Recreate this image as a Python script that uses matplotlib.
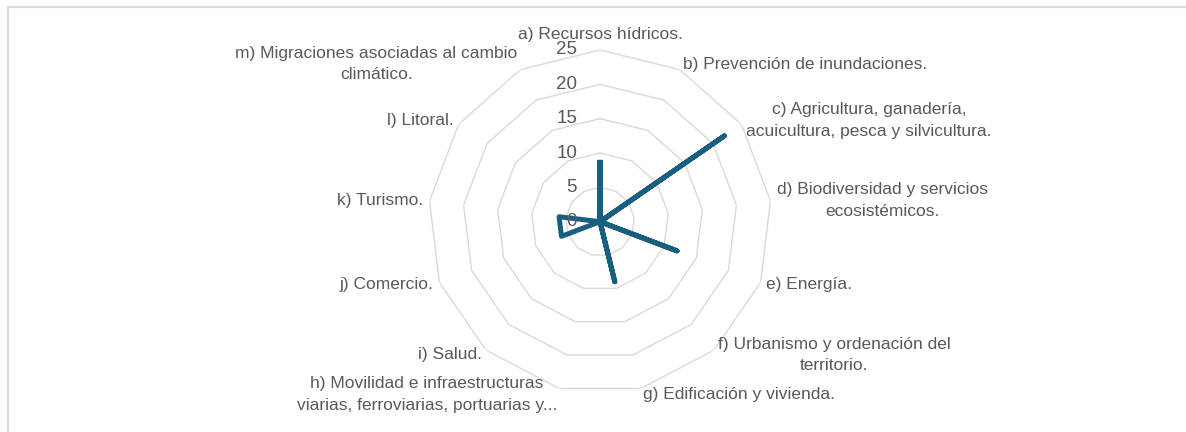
import numpy as np
import matplotlib.pyplot as plt
from matplotlib import transforms

# categories and counts
labels = ['a) Recursos hídricos.',
          'b) Prevención de inundaciones.',
          'c) Agricultura, ganadería,\nacuicultura, pesca y silvicultura.',
          'd) Biodiversidad y servicios\necosistémicos.',
          'e) Energía.',
          'f) Urbanismo y ordenación del\nterritorio.',
          'g) Edificación y vivienda.',
          'h) Movilidad e infraestructuras\nviarias, ferroviarias, portuarias y...',
          'i) Salud.',
          'j) Comercio.',
          'k) Turismo.',
          'l) Litoral.',
          'm) Migraciones asociadas al cambio\nclimático.']
values = [9, 0, 22, 0, 12, 0, 9, 0, 0, 6, 6, 0, 0]
rings = [0, 5, 10, 15, 20, 25]

plt.rcParams['font.family'] = ['Liberation Sans', 'DejaVu Sans']
txt_color = '#595959'
grid_color = '#d9d9d9'
line_color = '#175e80'

W, H = 1186, 432
fig = plt.figure(figsize=(W / 100, H / 100), dpi=100)

# polar axes centred at (600, 222) px, outer ring radius ~172 px
cx, cy, R = 600, 221.7, 171.7
ax = fig.add_axes([(cx - R) / W, (H - cy - R) / H, 2 * R / W, 2 * R / H],
                  projection='polar')
ax.set_theta_zero_location('N')
ax.set_theta_direction(-1)
ax.set_ylim(0, 25)
ax.axis('off')

n = len(labels)
theta = np.arange(n) * 2 * np.pi / n
theta_c = np.append(theta, theta[0])

# polygon gridlines
for r in rings[1:]:
    ax.plot(theta_c, [r] * (n + 1), color=grid_color, lw=1.0, zorder=1)

# data series
vals_c = np.append(values, values[0])
ax.plot(theta_c, vals_c, color=line_color, lw=3.6, solid_joinstyle='round',
        solid_capstyle='butt', zorder=3)

# radial tick labels to the left of the vertical axis
off = transforms.offset_copy(ax.transData, fig=fig, x=-23, y=0, units='dots')
for r in rings:
    ax.text(0, r, str(r), transform=off, ha='right', va='center',
            fontsize=13.5, color=txt_color, clip_on=False)

# category labels around the outside
r_lab = 25 * 178 / R
for t, lab in zip(theta, labels):
    s = np.sin(t)
    if s > 0.1:
        ha = 'left'
    elif s < -0.1:
        ha = 'right'
    else:
        ha = 'center'
    va = 'bottom' if abs(t) < 1e-6 else 'center'
    rr = 25 * 180 / R if va == 'bottom' else r_lab
    ax.text(t, rr, lab, ha=ha, va=va, ma='center', fontsize=12.5,
            color=txt_color, clip_on=False, linespacing=1.55)

# chart area border
fig.add_artist(plt.Rectangle((8 / W, -0.1), 2, (H - 7) / H + 0.1,
                             transform=fig.transFigure, fill=False,
                             edgecolor=grid_color, lw=1.5))

fig.savefig('out.png', dpi=100, facecolor='white')
